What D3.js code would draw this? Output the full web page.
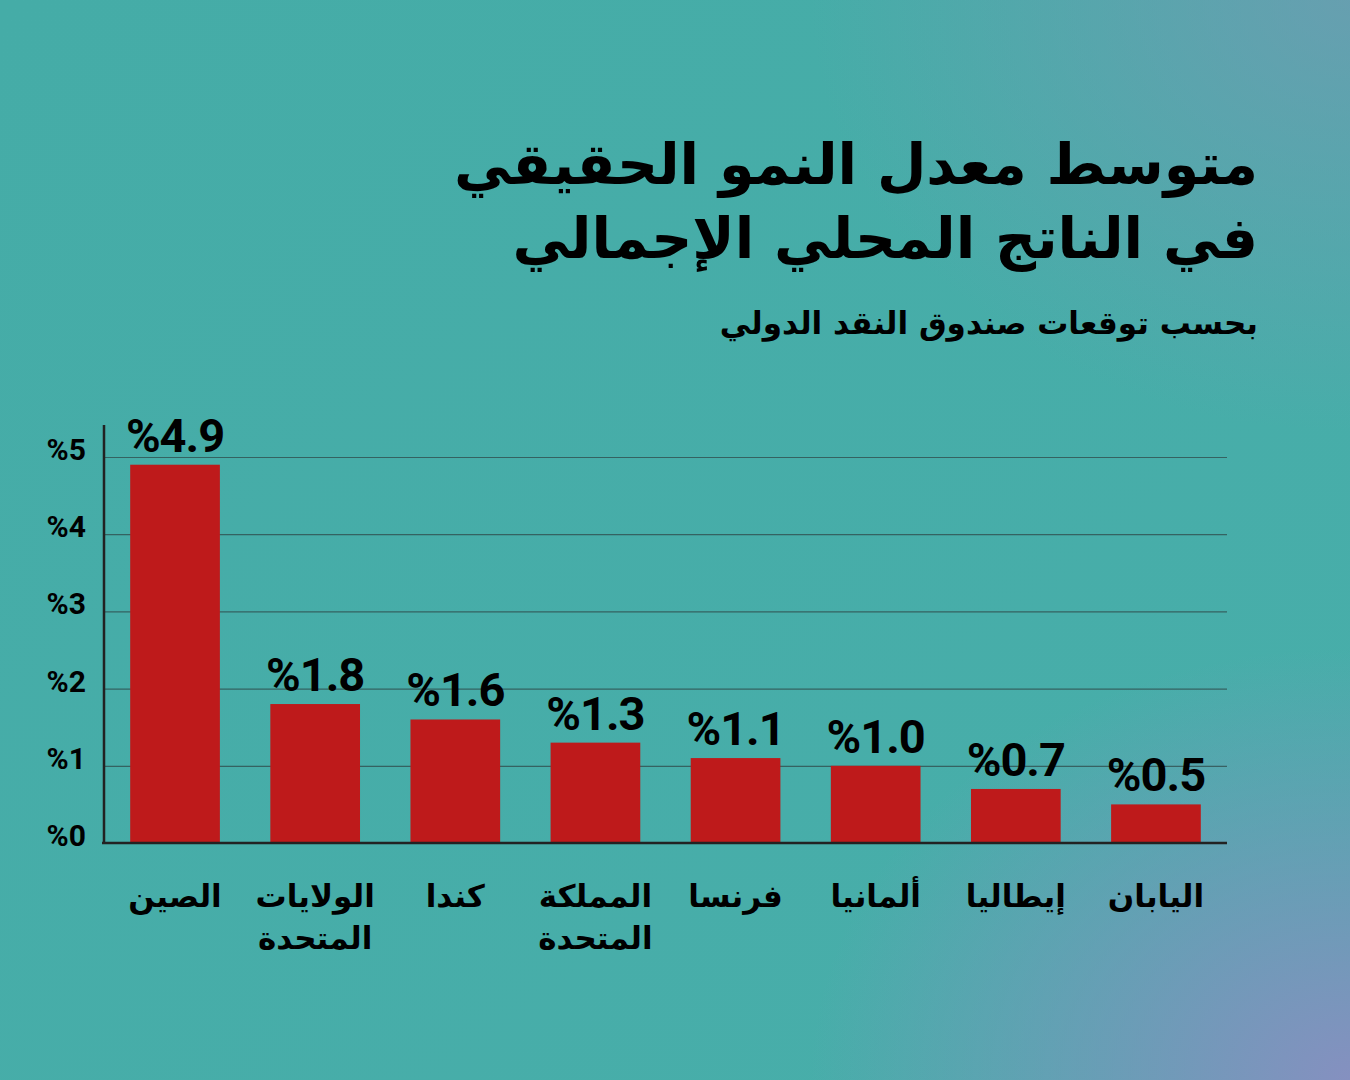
<!DOCTYPE html>
<html>
<head>
<meta charset="utf-8">
<script src="https://cdn.jsdelivr.net/npm/d3@7"></script>
<style>
  html, body { margin: 0; padding: 0; }
  body { width: 1350px; height: 1080px; overflow: hidden; }
</style>
</head>
<body>
<div id="chart"></div>
<script>
let width = 1350,
    height = 1080,
    margin = ({ top: 457, right: 123, bottom: 237, left: 104 });

// data
const countries = ["الصين", "الولايات المتحدة", "كندا", "المملكة المتحدة", "فرنسا", "ألمانيا", "إيطاليا", "اليابان"];
const labelLines = [["الصين"], ["الولايات", "المتحدة"], ["كندا"], ["المملكة", "المتحدة"], ["فرنسا"], ["ألمانيا"], ["إيطاليا"], ["اليابان"]];
const growth = [4.9, 1.8, 1.6, 1.3, 1.1, 1.0, 0.7, 0.5];
const yTicks = [0, 1, 2, 3, 4, 5];
const titleLines = ["متوسط معدل النمو الحقيقي", "في الناتج المحلي الإجمالي"];
const subtitle = "بحسب توقعات صندوق النقد الدولي";

const arabicFont = "'DejaVu Sans', sans-serif";
const numFont = "Roboto, 'DejaVu Sans', sans-serif";

const svg = d3.select("#chart")
  .append("svg")
  .attr("width", width)
  .attr("height", height)
  .attr("viewBox", [0, 0, width, height]);

// background
let defs = svg.append("defs");
let lg = defs.append("linearGradient")
  .attr("id", "bg")
  .attr("x1", 0).attr("y1", 0).attr("x2", 1).attr("y2", 1);
lg.append("stop").attr("offset", "0%").attr("stop-color", "#45aca7");
lg.append("stop").attr("offset", "100%").attr("stop-color", "#48aeaa");

let rg = defs.append("radialGradient")
  .attr("id", "glow")
  .attr("cx", 1).attr("cy", 1).attr("r", 0.4);
rg.append("stop").attr("offset", "0%").attr("stop-color", "#8590c0").attr("stop-opacity", 1);
rg.append("stop").attr("offset", "100%").attr("stop-color", "#8590c0").attr("stop-opacity", 0);

let rg2 = defs.append("radialGradient")
  .attr("id", "glow2")
  .attr("cx", 1).attr("cy", 0).attr("r", 0.4);
rg2.append("stop").attr("offset", "0%").attr("stop-color", "#7898b4").attr("stop-opacity", 0.65);
rg2.append("stop").attr("offset", "100%").attr("stop-color", "#7898b4").attr("stop-opacity", 0);

svg.append("rect").attr("width", width).attr("height", height).attr("fill", "url(#bg)");
svg.append("rect").attr("width", width).attr("height", height).attr("fill", "url(#glow)");
svg.append("rect").attr("width", width).attr("height", height).attr("fill", "url(#glow2)");

// title
svg.append("g")
  .selectAll("text")
  .data(titleLines)
  .join("text")
  .attr("x", 1258)
  .attr("y", (d, i) => 184 + i * 74)
  .attr("text-anchor", "end")
  .attr("font-family", arabicFont)
  .attr("font-weight", "bold")
  .attr("font-size", 57)
  .attr("fill", "#000")
  .text(d => d);

svg.append("text")
  .attr("x", 1258)
  .attr("y", 334)
  .attr("text-anchor", "end")
  .attr("font-family", arabicFont)
  .attr("font-weight", "bold")
  .attr("font-size", 31)
  .attr("fill", "#000")
  .text(subtitle);

// scales
let x = d3.scaleBand()
  .domain(countries)
  .range([margin.left, width - margin.right])
  .paddingInner(0.36)
  .paddingOuter(0.187);

let y = d3.scaleLinear()
  .domain([0, 5])
  .range([height - margin.bottom, margin.top]);

// gridlines
svg.append("g")
  .attr("transform", `translate(${margin.left},0)`)
  .call(d3.axisLeft(y).tickValues(yTicks.slice(1)).tickSize(-(width - margin.right - margin.left)).tickFormat(""))
  .call(g => g.select(".domain").remove())
  .call(g => g.selectAll("line").attr("stroke", "#2f4a4a").attr("stroke-opacity", 0.75).attr("stroke-width", 1.2));

// tick labels
svg.append("g")
  .selectAll("text")
  .data(yTicks)
  .join("text")
  .attr("x", 86)
  .attr("y", d => y(d) + 3)
  .attr("text-anchor", "end")
  .attr("font-family", numFont)
  .attr("font-weight", "bold")
  .attr("font-size", 30)
  .attr("fill", "#000")
  .text(d => "%" + d);

// bars
svg.append("g")
  .selectAll("rect")
  .data(growth)
  .join("rect")
  .attr("x", (d, i) => x(countries[i]))
  .attr("y", d => y(d))
  .attr("width", x.bandwidth())
  .attr("height", d => y(0) - y(d))
  .attr("fill", "#be1a1b");

// value labels
svg.append("g")
  .selectAll("text")
  .data(growth)
  .join("text")
  .attr("x", (d, i) => x(countries[i]) + x.bandwidth() / 2)
  .attr("y", d => y(d) - 13)
  .attr("text-anchor", "middle")
  .attr("font-family", numFont)
  .attr("font-weight", "bold")
  .attr("font-size", 47)
  .attr("letter-spacing", -1)
  .attr("fill", "#000")
  .text(d => "%" + d.toFixed(1));

// axis lines
svg.append("line")
  .attr("x1", margin.left).attr("x2", margin.left)
  .attr("y1", 425).attr("y2", y(0))
  .attr("stroke", "#222").attr("stroke-width", 2.5);
svg.append("line")
  .attr("x1", margin.left - 2).attr("x2", width - margin.right)
  .attr("y1", y(0)).attr("y2", y(0))
  .attr("stroke", "#222").attr("stroke-width", 2.5);

// category labels
let cats = svg.append("g")
  .selectAll("text")
  .data(labelLines)
  .join("text")
  .attr("text-anchor", "middle")
  .attr("font-family", arabicFont)
  .attr("font-weight", "bold")
  .attr("font-size", 31)
  .attr("fill", "#000");

cats.selectAll("tspan")
  .data((d, i) => d.map(t => ({ t, i })))
  .join("tspan")
  .attr("x", d => x(countries[d.i]) + x.bandwidth() / 2)
  .attr("y", (d, j) => 907 + j * 42)
  .text(d => d.t);
</script>
</body>
</html>
